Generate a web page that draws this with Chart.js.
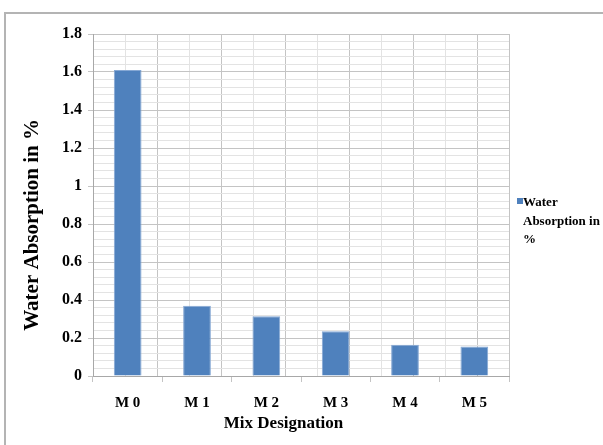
<!DOCTYPE html>
<html>
<head>
<meta charset="utf-8">
<script src="https://cdn.jsdelivr.net/npm/chart.js@4"></script>
<style>
  html, body { margin: 0; padding: 0; background: #fff; overflow: hidden; }
  #wrap { position: relative; width: 603px; height: 445px; }
  #frame { position: absolute; left: 4px; top: 12px; width: 700px; height: 600px;
           border-left: 2px solid #b4b4b4; border-top: 2px solid #b4b4b4; box-sizing: border-box; }
  canvas { position: absolute; left: 0; top: 0; }
  #legend { position: absolute; left: 516px; top: 193px; font-family: "Liberation Serif", serif;
            font-weight: bold; font-size: 13px; line-height: 18.5px; color: #000; }
  #legend .mk { position: absolute; left: 1px; top: 5px; width: 6px; height: 6px; background: #4F81BD; }
  #legend .tx { margin-left: 7px; }
</style>
</head>
<body>
<div id="wrap">
  <div id="frame"></div>
  <canvas id="c" width="603" height="445"></canvas>
  <div id="legend"><span class="mk"></span><div class="tx">Water<br>Absorption in<br>%</div></div>
</div>
<script>
const categories = ["M 0", "M 1", "M 2", "M 3", "M 4", "M 5"];
const waterAbsorption = [1.61, 0.37, 0.315, 0.235, 0.165, 0.155];
const seriesName = "Water Absorption in %";
const yMin = 0, yMax = 1.8, yMajorStep = 0.2, yMinorStep = 0.04;
const xTitle = "Mix Designation";
const yTitle = "Water Absorption in %";

const isMajor = v => Math.abs(Math.round(v / yMajorStep) - v / yMajorStep) < 1e-6;
const MAJOR = '#c4c4c4', MINOR = '#e3e3e3';
const FONT = "'Liberation Serif', 'Times New Roman', serif";
const tickVal = c => (c && c.tick ? c.tick.value : 0);

// Axis titles, placed like the reference (slightly off the plot centre)
const axisTitles = {
  id: 'axisTitles',
  afterDraw(chart) {
    const { ctx, chartArea: a } = chart;
    ctx.save();
    ctx.fillStyle = '#000';
    ctx.textAlign = 'center';
    ctx.textBaseline = 'middle';
    ctx.font = "bold 17px " + FONT;
    ctx.fillText(xTitle, a.left + (a.right - a.left) * 0.458, a.bottom + 48);
    ctx.translate(a.left - 60, a.top + (a.bottom - a.top) * 0.558);
    ctx.rotate(-Math.PI / 2);
    ctx.font = "bold 21px " + FONT;
    ctx.fillText(yTitle, 0, 0);
    ctx.restore();
  }
};

new Chart(document.getElementById('c'), {
  type: 'bar',
  data: {
    labels: categories,
    datasets: [{
      label: seriesName,
      data: waterAbsorption,
      backgroundColor: '#4F81BD',
      borderColor: '#86a8d4',
      borderWidth: 1,
      barPercentage: 0.4,
      categoryPercentage: 1.0
    }]
  },
  plugins: [axisTitles],
  options: {
    responsive: false,
    animation: false,
    devicePixelRatio: 1,
    layout: { padding: { left: 0, top: 34, right: 94, bottom: 0 } },
    plugins: { legend: { display: false }, tooltip: { enabled: false } },
    scales: {
      x: {
        type: 'category',
        position: 'bottom',
        offset: true,
        grid: { display: true, offset: true, color: 'transparent', tickColor: MAJOR, tickLength: 6, drawOnChartArea: false },
        border: { display: true, color: '#a8a8a8' },
        ticks: { color: '#000', font: { family: FONT, size: 15, weight: 'bold' }, padding: 12 },
        title: { display: false, text: xTitle },
        afterFit: s => { s.height = 69; }
      },
      x2: {
        type: 'linear',
        position: 'bottom',
        min: 0, max: categories.length * 2,
        ticks: { display: false, stepSize: 1 },
        grid: { color: c => (Math.round(tickVal(c)) % 2 === 0 ? MAJOR : MINOR), drawTicks: false },
        border: { display: false },
        afterFit: s => { s.height = 0; }
      },
      y: {
        min: yMin, max: yMax,
        ticks: {
          stepSize: yMinorStep, autoSkip: false, maxTicksLimit: 1000,
          color: '#000', font: { family: FONT, size: 16, weight: 'bold' }, padding: 6,
          callback: v => isMajor(v) ? String(Math.round(v * 10) / 10) : ''
        },
        grid: {
          color: c => isMajor(tickVal(c)) ? MAJOR : MINOR,
          tickColor: c => isMajor(tickVal(c)) ? MAJOR : 'transparent',
          tickLength: 5
        },
        border: { display: true, color: '#a8a8a8' },
        title: { display: false, text: yTitle },
        afterFit: s => { s.width = 93; }
      }
    }
  }
});
</script>
</body>
</html>
